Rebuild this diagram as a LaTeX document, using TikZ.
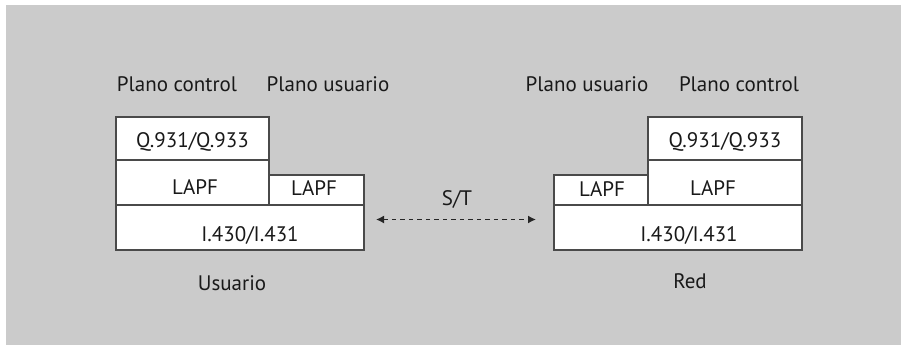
\documentclass[tikz,border=0pt]{standalone}
\usepackage{fontspec}
\setmainfont{PT Sans}
\usetikzlibrary{arrows.meta}
\definecolor{bggray}{HTML}{CBCBCB}
\definecolor{edgegray}{HTML}{4A4A4A}
\tikzset{
  layerbox/.style={draw=edgegray, line width=1.5pt, fill=white, anchor=north west, inner sep=0pt},
  lbl/.style={anchor=base, inner sep=0pt, font=\fontsize{21}{25}\selectfont, text=black!90},
  link/.style={draw=black!85, line width=1.5pt, dash pattern=on 4.5pt off 4pt, {Latex[length=8pt,width=8pt]}-{Latex[length=8pt,width=8pt]}}
}
\begin{document}
\begin{tikzpicture}[x=1pt,y=-1pt]
\useasboundingbox (0,0) rectangle (901,345);
\fill[white] (0,0) rectangle (901,345);
\fill[bggray] (6,5) rectangle (901,345);
% left stack (Usuario)
\node[layerbox, minimum width=153pt, minimum height=43pt] (lq) at (115,116) {};
\node[layerbox, minimum width=153pt, minimum height=45pt] (llapf) at (115,159) {};
\node[layerbox, minimum width=95pt, minimum height=30pt] (llapfu) at (268,174) {};
\node[layerbox, minimum width=248pt, minimum height=45pt] (lphy) at (115,204) {};
% right stack (Red)
\node[layerbox, minimum width=154pt, minimum height=43pt] (rq) at (647,116) {};
\node[layerbox, minimum width=154pt, minimum height=45pt] (rlapf) at (647,159) {};
\node[layerbox, minimum width=94pt, minimum height=30pt] (rlapfu) at (553,174) {};
\node[layerbox, minimum width=248pt, minimum height=45pt] (rphy) at (553,204) {};
% texts left
\node[lbl] (tlpc) at (177,91.5) {Plano control};
\node[lbl] (tlpu) at (328,91) {Plano usuario};
\node[lbl] (tlq) at (192.5,147.5) {Q.931/Q.933};
\node[lbl] (tll) at (195,194.5) {LAPF};
\node[lbl] (tllu) at (314,195) {LAPF};
\node[lbl] (tlp) at (250,241.5) {I.430/I.431};
\node[lbl] (tusr) at (232,290) {Usuario};
% texts right
\node[lbl] (trpu) at (587,91) {Plano usuario};
\node[lbl] (trpc) at (739,91.5) {Plano control};
\node[lbl] (trq) at (725,147.5) {Q.931/Q.933};
\node[lbl] (trl) at (713,195) {LAPF};
\node[lbl] (trlu) at (602,196) {LAPF};
\node[lbl] (trp) at (689,241.5) {I.430/I.431};
\node[lbl] (tred) at (690,288.5) {Red};
% S/T link
\node[lbl] (st) at (457,205) {S/T};
\coordinate (la) at (376,219.5);
\coordinate (ra) at (536,219.5);
\draw[link] (la) -- (ra);
\end{tikzpicture}
\end{document}
